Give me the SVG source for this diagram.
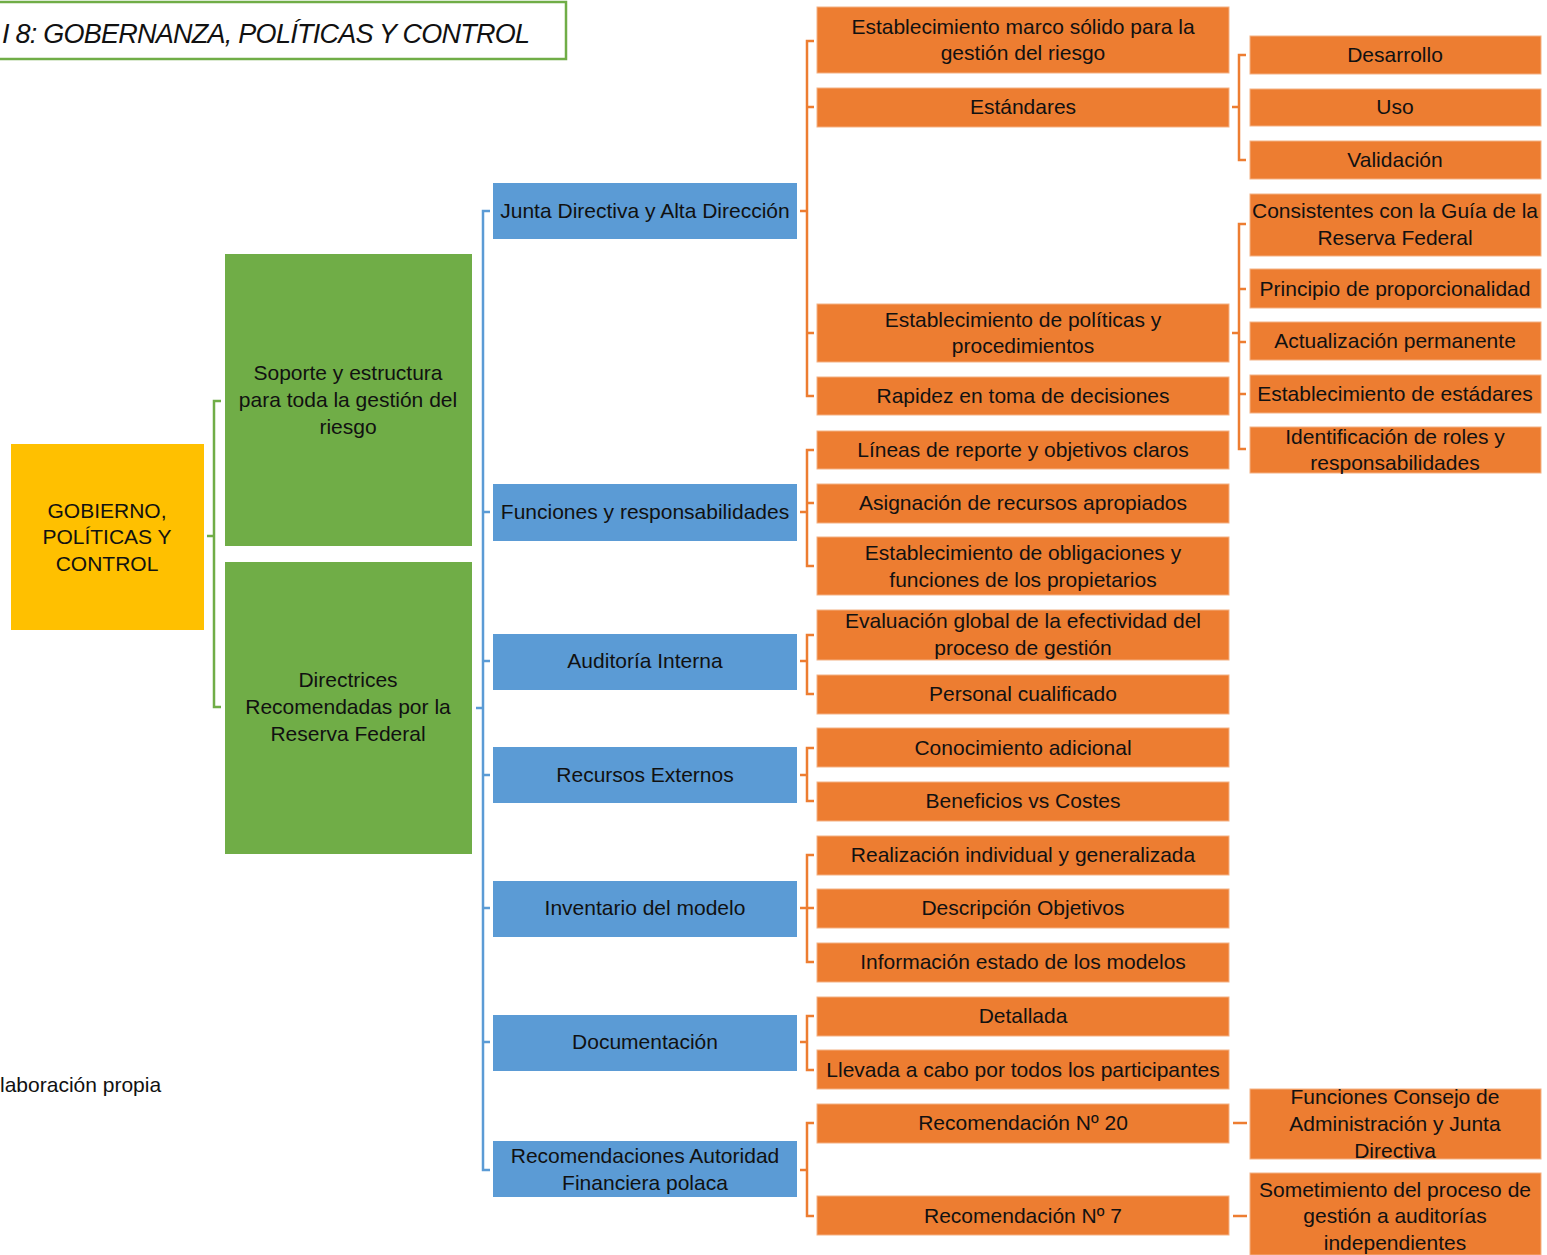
<svg xmlns="http://www.w3.org/2000/svg" width="1547" height="1255" viewBox="0 0 1547 1255">
<style>
text{font-family:"Liberation Sans","Open Sans",sans-serif;font-size:21px;fill:#111;text-anchor:middle}
.y{fill:#FFC000}
.g{fill:#70AD47}
.b{fill:#5B9BD5}
.o{fill:#ED7D31;stroke:#F4B183;stroke-width:1}
.cg{stroke:#70AD47;stroke-width:2.5;fill:none}
.cb{stroke:#5B9BD5;stroke-width:2.5;fill:none}
.co{stroke:#ED7D31;stroke-width:2.5;fill:none}
</style>
<rect width="1547" height="1255" fill="#fff"/>
<g id="title">
<rect x="-3" y="2" width="569" height="57" fill="#fff" stroke="#70AD47" stroke-width="2.5"/>
<text x="2" y="43" style="font-size:27px;font-style:italic;text-anchor:start" textLength="528">I 8: GOBERNANZA, POLÍTICAS Y CONTROL</text>
</g>
<g id="source"><text x="0" y="1092" style="text-anchor:start">laboración propia</text></g>
<g id="connectors">
<path class="cg" d="M207 536H214M221 401H214V707H221"/>
<path class="cb" d="M476 708H483M490 211H483V1170H490M483 512H490M483 661H490M483 775H490M483 908H490M483 1042H490"/>
<path class="co" d="M800 211H807M814 41H807V396H814M807 107H814M807 333H814"/>
<path class="co" d="M800 512H807M814 450H807V566H814M807 503H814"/>
<path class="co" d="M800 661H807M814 635H807V694H814"/>
<path class="co" d="M800 775H807M814 748H807V801H814"/>
<path class="co" d="M800 908H814M814 855H807V962H814"/>
<path class="co" d="M800 1042H807M814 1016H807V1070H814"/>
<path class="co" d="M800 1170H807M814 1123H807V1216H814"/>
<path class="co" d="M1232 107H1239M1246 55H1239V160H1246"/>
<path class="co" d="M1232 333H1239M1246 224H1239V449H1246M1239 289H1246M1239 342H1246M1239 394H1246"/>
<path class="co" d="M1233 1123H1247M1233 1216H1247"/>
</g>
<g id="root"><rect class="y" x="11" y="444" width="193" height="186"/>
<text x="107" y="518">GOBIERNO,</text><text x="107" y="544">POLÍTICAS Y</text><text x="107" y="571">CONTROL</text></g>
<g id="soporte"><rect class="g" x="225" y="254" width="247" height="292"/>
<text x="348" y="380">Soporte y estructura</text><text x="348" y="407">para toda la gestión del</text><text x="348" y="434">riesgo</text></g>
<g id="directrices"><rect class="g" x="225" y="562" width="247" height="292"/>
<text x="348" y="687">Directrices</text><text x="348" y="714">Recomendadas por la</text><text x="348" y="741">Reserva Federal</text></g>
<g id="junta"><rect class="b" x="493" y="183" width="304" height="56"/><text x="645" y="218">Junta Directiva y Alta Dirección</text></g>
<g id="funciones"><rect class="b" x="493" y="484" width="304" height="57"/><text x="645" y="519">Funciones y responsabilidades</text></g>
<g id="auditoria"><rect class="b" x="493" y="634" width="304" height="56"/><text x="645" y="668">Auditoría Interna</text></g>
<g id="recursos"><rect class="b" x="493" y="747" width="304" height="56"/><text x="645" y="782">Recursos Externos</text></g>
<g id="inventario"><rect class="b" x="493" y="881" width="304" height="56"/><text x="645" y="915">Inventario del modelo</text></g>
<g id="documentacion"><rect class="b" x="493" y="1015" width="304" height="56"/><text x="645" y="1049">Documentación</text></g>
<g id="recomendaciones"><rect class="b" x="493" y="1141" width="304" height="56"/><text x="645" y="1163">Recomendaciones Autoridad</text><text x="645" y="1190">Financiera polaca</text></g>
<g id="marco"><rect class="o" x="817" y="7" width="412" height="66"/><text x="1023" y="34">Establecimiento marco sólido para la</text><text x="1023" y="60">gestión del riesgo</text></g>
<g id="estandares"><rect class="o" x="817" y="88" width="412" height="39"/><text x="1023" y="114">Estándares</text></g>
<g id="politicas"><rect class="o" x="817" y="304" width="412" height="58"/><text x="1023" y="327">Establecimiento de políticas y</text><text x="1023" y="353">procedimientos</text></g>
<g id="rapidez"><rect class="o" x="817" y="377" width="412" height="38"/><text x="1023" y="403">Rapidez en toma de decisiones</text></g>
<g id="lineas"><rect class="o" x="817" y="431" width="412" height="38"/><text x="1023" y="457">Líneas de reporte y objetivos claros</text></g>
<g id="asignacion"><rect class="o" x="817" y="484" width="412" height="39"/><text x="1023" y="510">Asignación de recursos apropiados</text></g>
<g id="obligaciones"><rect class="o" x="817" y="537" width="412" height="58"/><text x="1023" y="560">Establecimiento de obligaciones y</text><text x="1023" y="587">funciones de los propietarios</text></g>
<g id="evaluacion"><rect class="o" x="817" y="610" width="412" height="50"/><text x="1023" y="628">Evaluación global de la efectividad del</text><text x="1023" y="655">proceso de gestión</text></g>
<g id="personal"><rect class="o" x="817" y="675" width="412" height="39"/><text x="1023" y="701">Personal cualificado</text></g>
<g id="conocimiento"><rect class="o" x="817" y="728" width="412" height="39"/><text x="1023" y="755">Conocimiento adicional</text></g>
<g id="beneficios"><rect class="o" x="817" y="782" width="412" height="39"/><text x="1023" y="808">Beneficios vs Costes</text></g>
<g id="realizacion"><rect class="o" x="817" y="836" width="412" height="39"/><text x="1023" y="862">Realización individual y generalizada</text></g>
<g id="descripcion"><rect class="o" x="817" y="889" width="412" height="39"/><text x="1023" y="915">Descripción Objetivos</text></g>
<g id="informacion"><rect class="o" x="817" y="943" width="412" height="39"/><text x="1023" y="969">Información estado de los modelos</text></g>
<g id="detallada"><rect class="o" x="817" y="997" width="412" height="39"/><text x="1023" y="1023">Detallada</text></g>
<g id="llevada"><rect class="o" x="817" y="1050" width="412" height="39"/><text x="1023" y="1077">Llevada a cabo por todos los participantes</text></g>
<g id="rec20"><rect class="o" x="817" y="1104" width="412" height="39"/><text x="1023" y="1130">Recomendación Nº 20</text></g>
<g id="rec7"><rect class="o" x="817" y="1196" width="412" height="39"/><text x="1023" y="1223">Recomendación Nº 7</text></g>
<g id="desarrollo"><rect class="o" x="1250" y="36" width="291" height="38"/><text x="1395" y="62">Desarrollo</text></g>
<g id="uso"><rect class="o" x="1250" y="89" width="291" height="37"/><text x="1395" y="114">Uso</text></g>
<g id="validacion"><rect class="o" x="1250" y="141" width="291" height="38"/><text x="1395" y="167">Validación</text></g>
<g id="consistentes"><rect class="o" x="1250" y="194" width="291" height="62"/><text x="1395" y="218">Consistentes con la Guía de la</text><text x="1395" y="245">Reserva Federal</text></g>
<g id="proporcionalidad"><rect class="o" x="1250" y="269" width="291" height="39"/><text x="1395" y="296">Principio de proporcionalidad</text></g>
<g id="actualizacion"><rect class="o" x="1250" y="322" width="291" height="38"/><text x="1395" y="348">Actualización permanente</text></g>
<g id="estadares"><rect class="o" x="1250" y="375" width="291" height="38"/><text x="1395" y="401">Establecimiento de estádares</text></g>
<g id="roles"><rect class="o" x="1250" y="427" width="291" height="46"/><text x="1395" y="444">Identificación de roles y</text><text x="1395" y="470">responsabilidades</text></g>
<g id="consejo"><rect class="o" x="1250" y="1089" width="291" height="70"/><text x="1395" y="1104">Funciones Consejo de</text><text x="1395" y="1131">Administración y Junta</text><text x="1395" y="1158">Directiva</text></g>
<g id="sometimiento"><rect class="o" x="1250" y="1173" width="291" height="82"/><text x="1395" y="1197">Sometimiento del proceso de</text><text x="1395" y="1223">gestión a auditorías</text><text x="1395" y="1250">independientes</text></g>
</svg>
